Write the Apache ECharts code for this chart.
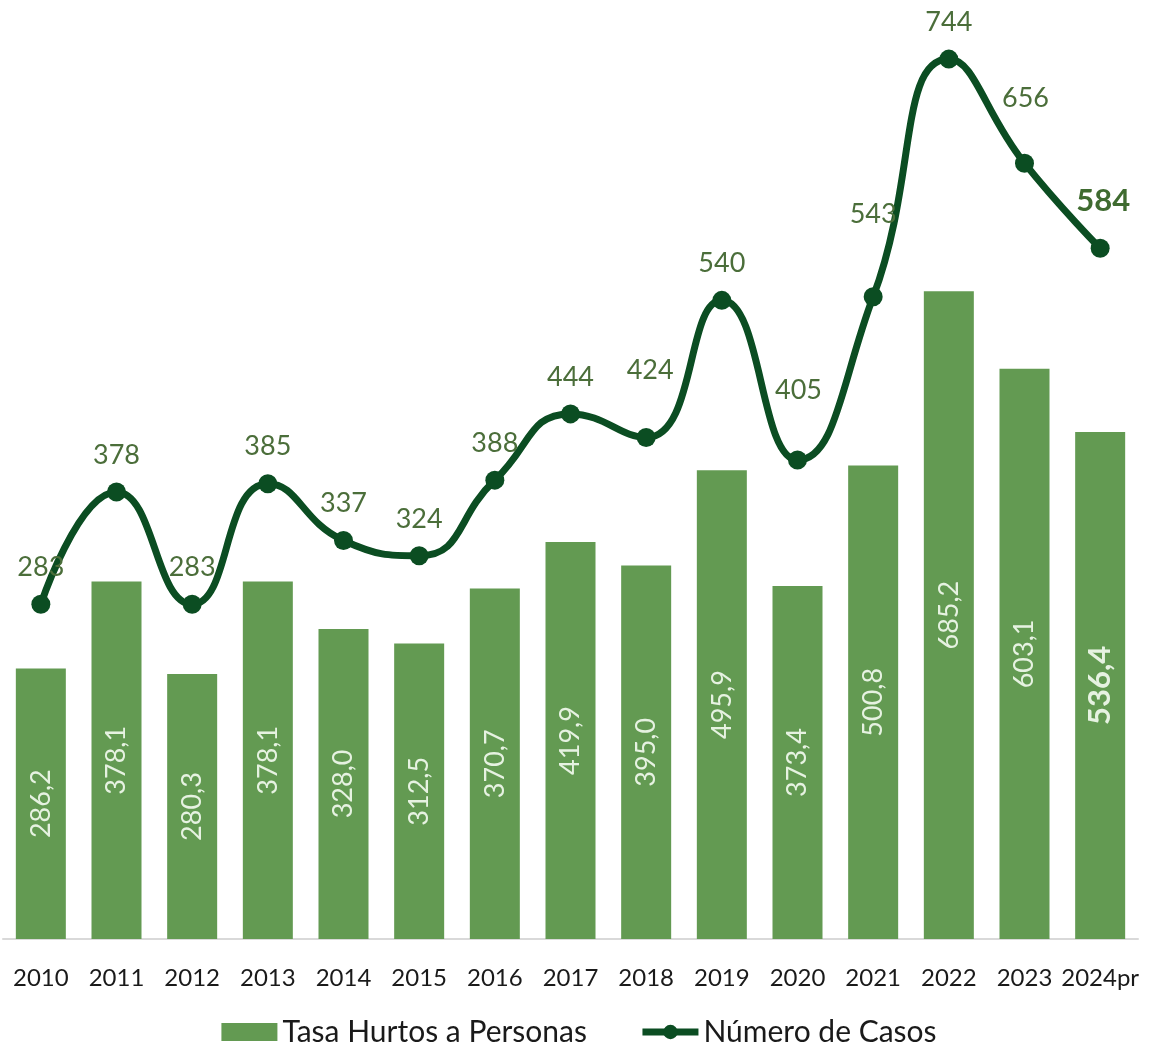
<!DOCTYPE html>
<html>
<head>
<meta charset="utf-8">
<script src="https://cdn.jsdelivr.net/npm/echarts@6/dist/echarts.min.js"></script>
<style>
  html, body { margin: 0; padding: 0; background: #fff; }
  #chart { width: 1158px; height: 1052px; }
</style>
</head>
<body>
<div id="chart"></div>
<script>
const years = ['2010', '2011', '2012', '2013', '2014', '2015', '2016', '2017', '2018', '2019', '2020', '2021', '2022', '2023', '2024pr']
const tasaHurtos = [286.2, 378.1, 280.3, 378.1, 328.0, 312.5, 370.7, 419.9, 395.0, 495.9, 373.4, 500.8, 685.2, 603.1, 536.4]
const numeroCasos = [283, 378, 283, 385, 337, 324, 388, 444, 424, 540, 405, 543, 744, 656, 584]
// labels that were moved up by hand in the original
const labelShift = { 8: [4, -30], 10: [1, -33], 11: [0, -46], 13: [1, -28] }

const FONT = 'Lato, "Open Sans", sans-serif'
const lastIdx = years.length - 1

const myChart = echarts.init(document.getElementById('chart'))

const barData = tasaHurtos.map((v, i) => {
  if (i !== lastIdx) return v
  return { value: v, label: { fontWeight: 'bold', fontSize: 31, color: '#e6f2e1' } }
})

const lineData = numeroCasos.map((v, i) => {
  if (i === lastIdx) {
    return { value: v, label: { fontWeight: 'bold', fontSize: 31, color: '#3f6b30', offset: [3, -8] } }
  }
  if (labelShift[i]) return { value: v, label: { offset: labelShift[i] } }
  return v
})

const option = {
  animation: false,
  textStyle: { fontFamily: FONT },
  grid: {
    left: 3,
    right: 20,
    top: 39,
    bottom: 113,
    containLabel: false
  },
  legend: {
    bottom: 0,
    left: 'center',
    itemGap: 52,
    itemWidth: 56,
    itemHeight: 18,
    textStyle: { fontSize: 30, color: '#1a1a1a', fontFamily: FONT },
    data: [
      { name: 'Tasa Hurtos a Personas', icon: 'rect' },
      { name: 'Número de Casos', lineStyle: { width: 7 }, itemStyle: { color: '#0b4d22' } }
    ]
  },
  xAxis: {
    type: 'category',
    data: years,
    boundaryGap: true,
    axisTick: { show: false },
    axisLine: { lineStyle: { color: '#d9d9d9', width: 2 } },
    axisLabel: { fontSize: 24, color: '#1a1a1a', margin: 27, interval: 0 }
  },
  yAxis: [
    { type: 'value', min: 0, max: 952, show: false, splitLine: { show: false } },
    { type: 'value', min: 0, max: 761, show: false, splitLine: { show: false } }
  ],
  series: [
    {
      name: 'Tasa Hurtos a Personas',
      type: 'bar',
      yAxisIndex: 0,
      barWidth: 50,
      itemStyle: { color: '#639a52' },
      label: {
        show: true,
        position: 'inside',
        rotate: 90,
        fontSize: 27,
        color: '#e6f2e1',
        formatter: p => p.value.toFixed(1).replace('.', ',')
      },
      data: barData
    },
    {
      name: 'Número de Casos',
      type: 'line',
      yAxisIndex: 1,
      smooth: 0.5,
      symbol: 'circle',
      symbolSize: 19,
      lineStyle: { color: '#0b4d22', width: 7 },
      itemStyle: { color: '#0b4d22' },
      label: {
        show: true,
        position: 'top',
        distance: 14,
        fontSize: 27,
        color: '#4b6e3a'
      },
      data: lineData,
      z: 3
    }
  ]
}

myChart.setOption(option)
myChart.resize()
</script>
</body>
</html>
